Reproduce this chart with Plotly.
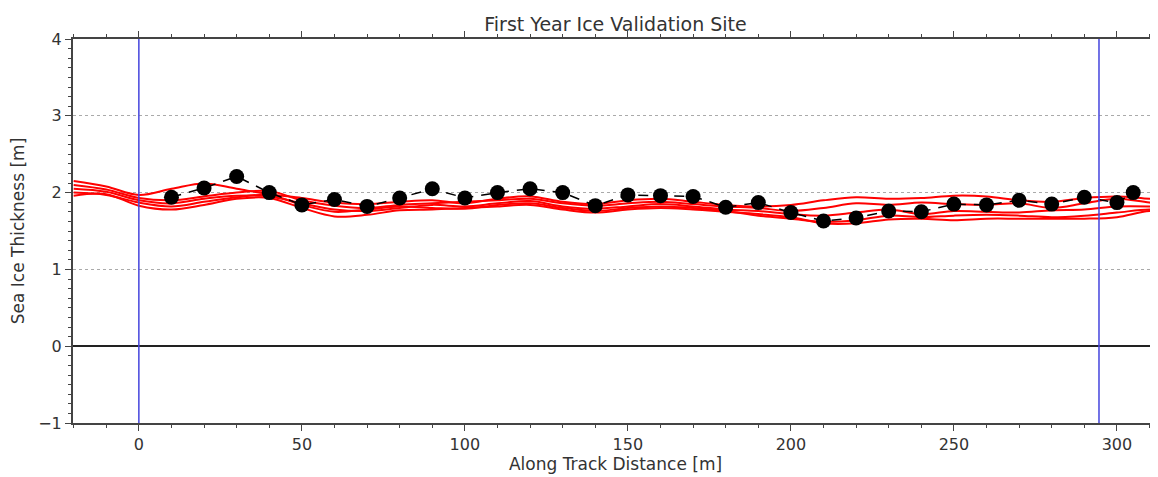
import numpy as np
import plotly.graph_objects as go

# drill hole measurements (black dots)
drill_x = [10, 20, 30, 40, 50, 60, 70, 80, 90, 100, 110, 120, 130, 140, 150, 160,
           170, 180, 190, 200, 210, 220, 230, 240, 250, 260, 270, 280, 290, 300, 305]
drill_y = [1.94, 2.06, 2.21, 2.00, 1.84, 1.91, 1.82, 1.93, 2.05, 1.93, 2.00, 2.05,
           2.00, 1.83, 1.97, 1.96, 1.95, 1.81, 1.87, 1.74, 1.63, 1.67, 1.76, 1.75,
           1.85, 1.84, 1.90, 1.85, 1.94, 1.87, 2.00]

# airborne profiles (red lines)
track_x = list(range(-20, 330, 10))
track_a = [2.15, 2.08, 1.97, 2.05, 2.12, 2.05, 1.98, 1.93, 1.87, 1.85, 1.88, 1.90,
           1.86, 1.92, 1.95, 1.88, 1.85, 1.90, 1.92, 1.88, 1.84, 1.82, 1.84, 1.90,
           1.94, 1.92, 1.93, 1.96, 1.95, 1.90, 1.88, 1.93, 1.95, 1.92, 1.90]
track_b = [2.10, 2.04, 1.93, 1.90, 1.95, 2.00, 2.02, 1.90, 1.83, 1.80, 1.84, 1.86,
           1.88, 1.90, 1.92, 1.86, 1.83, 1.86, 1.88, 1.85, 1.82, 1.80, 1.76, 1.80,
           1.86, 1.84, 1.87, 1.85, 1.84, 1.86, 1.80, 1.86, 1.92, 1.87, 1.84]
track_c = [2.05, 2.01, 1.90, 1.86, 1.92, 1.96, 1.95, 1.86, 1.78, 1.76, 1.80, 1.84,
           1.82, 1.86, 1.89, 1.82, 1.79, 1.82, 1.85, 1.82, 1.78, 1.76, 1.72, 1.70,
           1.74, 1.78, 1.72, 1.76, 1.75, 1.74, 1.77, 1.78, 1.82, 1.82, 1.80]
track_d = [2.00, 1.97, 1.87, 1.82, 1.88, 1.94, 1.97, 1.84, 1.75, 1.78, 1.82, 1.80,
           1.79, 1.84, 1.86, 1.80, 1.76, 1.80, 1.82, 1.80, 1.76, 1.70, 1.66, 1.62,
           1.64, 1.70, 1.68, 1.70, 1.71, 1.70, 1.68, 1.70, 1.74, 1.78, 1.76]
track_e = [1.96, 1.98, 1.83, 1.78, 1.84, 1.92, 1.93, 1.80, 1.69, 1.71, 1.77, 1.78,
           1.80, 1.82, 1.84, 1.78, 1.74, 1.78, 1.80, 1.78, 1.75, 1.72, 1.68, 1.60,
           1.60, 1.65, 1.66, 1.64, 1.66, 1.66, 1.66, 1.66, 1.68, 1.76, 1.74]

site_bounds = [0, 294.5]

font = "DejaVu Sans"
fig = go.Figure()

for y in [track_a, track_b, track_c, track_d, track_e]:
    fig.add_trace(go.Scatter(x=track_x, y=y, mode='lines',
                             line=dict(color='#ff0000', width=2, shape='spline'),
                             showlegend=False))

fig.add_trace(go.Scatter(x=drill_x, y=drill_y, mode='lines+markers',
                         line=dict(color='black', width=1.5, dash='10px,8px'),
                         marker=dict(color='black', size=15),
                         showlegend=False))

for xb in site_bounds:
    fig.add_vline(x=xb, line=dict(color='#4444dd', width=1.5))

# page body adds ~8px offset, so the figure is sized to fit the window
fig.update_layout(
    width=1150, height=469,
    margin=dict(l=65, r=0, t=31, b=54),
    paper_bgcolor='white', plot_bgcolor='white',
    font=dict(family=font, color='#333333', size=16),
    title=dict(text='First Year Ice Validation Site', x=0.5, xref='paper',
               y=0.966, yanchor='middle', font=dict(size=19)),
    xaxis=dict(range=[-20.2, 312.6], dtick=50, tick0=0, automargin=False,
               showline=True, linecolor='#444', linewidth=2, mirror='ticks',
               ticks='outside', ticklen=6, tickcolor='#444',
               minor=dict(dtick=10, ticks='outside', ticklen=3, tickcolor='#444'),
               showgrid=False, zeroline=False,
               title=dict(text='Along Track Distance [m]', font=dict(size=17), standoff=2)),
    yaxis=dict(range=[-1, 4], dtick=1, automargin=False,
               showline=True, linecolor='#444', linewidth=2, mirror='ticks',
               ticks='outside', ticklen=6, tickcolor='#444',
               minor=dict(dtick=0.125, ticks='outside', ticklen=3, tickcolor='#444'),
               showgrid=True, gridcolor='#aaaaaa', griddash='dot', gridwidth=1,
               zeroline=True, zerolinecolor='#222', zerolinewidth=1.5,
               title=dict(text='Sea Ice Thickness [m]', font=dict(size=17), standoff=14)),
)

fig.write_html("out.html")
